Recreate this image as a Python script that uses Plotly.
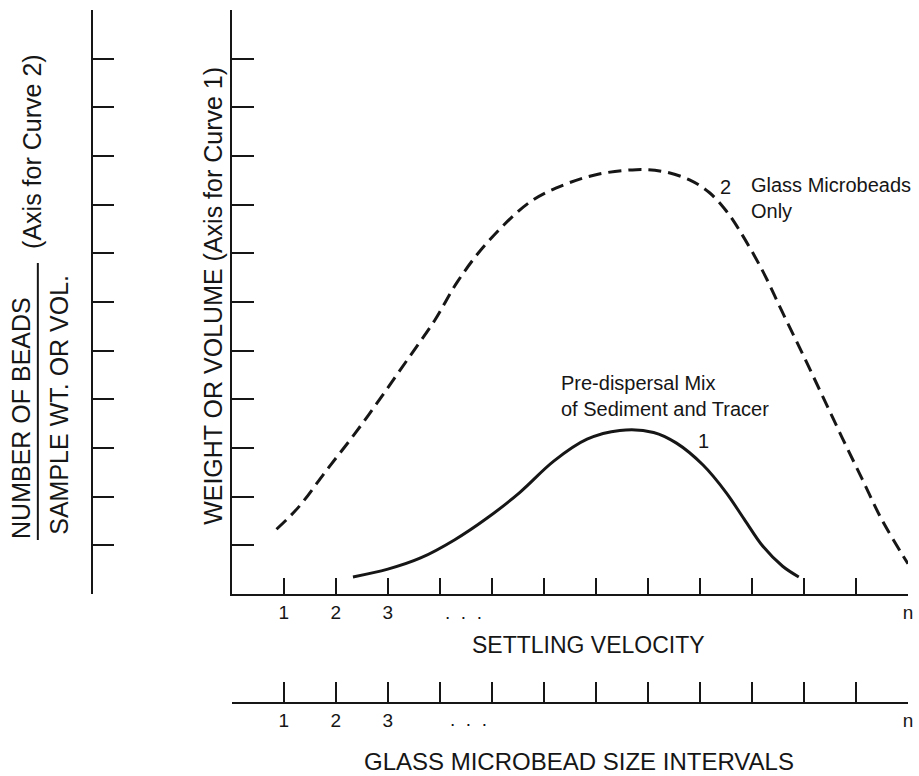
import plotly.graph_objects as go

# ---------------- data ----------------
# Curve 2: Glass microbeads only (dashed), read against the outer-left axis
curve2_x = [0.86, 1.28, 1.82, 2.37, 2.87, 3.38, 3.90, 4.34, 4.91, 5.74, 6.39, 7.02, 7.78,
            8.30, 8.80, 9.18, 9.50, 9.75, 10.21, 10.59, 10.98, 11.36, 11.74, 12.12, 12.50, 13.0]
curve2_y = [1.33, 1.78, 2.54, 3.30, 4.04, 4.82, 5.62, 6.42, 7.22, 8.06, 8.41, 8.62, 8.72,
            8.68, 8.51, 8.25, 7.88, 7.49, 6.63, 5.78, 4.92, 4.06, 3.20, 2.36, 1.52, 0.62]

# Curve 1: Pre-dispersal mix of sediment and tracer (solid)
curve1_x = [2.33, 3.00, 3.63, 4.28, 4.91, 5.54, 6.19, 6.83, 7.46, 8.11, 8.55, 9.06, 9.50,
            9.85, 10.21, 10.59, 10.90]
curve1_y = [0.35, 0.51, 0.74, 1.11, 1.56, 2.09, 2.73, 3.18, 3.36, 3.32, 3.10, 2.65, 2.09,
            1.54, 0.98, 0.57, 0.35]

x_ticks = list(range(1, 14))
x_ticktext = ["1", "2", "3"] + [""] * 9 + ["n"]
x2_ticks = list(range(0, 14))
x2_ticktext = [""] + x_ticktext
y_ticks = list(range(0, 13))
X_RANGE = [0, 13]
Y_RANGE = [0, 12]

# ---------------- layout geometry ----------------
W, H = 919, 776
ML, MR, MT, MB = 10, 6, 10, 10
PW, PH = W - ML - MR, H - MT - MB


def px(x):
    return (x - ML) / PW


def py(y):
    return (H - MB - y) / PH


FONT = "Liberation Sans, Arial, Helvetica, sans-serif"
INK = "#161616"

fig = go.Figure()

fig.add_trace(go.Scatter(
    x=curve2_x, y=curve2_y, mode="lines", line_shape="spline",
    line=dict(color=INK, width=3, dash="13px,7px"),
    hoverinfo="skip", showlegend=False, cliponaxis=False))
fig.add_trace(go.Scatter(
    x=curve1_x, y=curve1_y, mode="lines", line_shape="spline",
    line=dict(color=INK, width=3),
    hoverinfo="skip", showlegend=False, cliponaxis=False))
# carrier trace so that the secondary (free) axes are drawn
fig.add_trace(go.Scatter(
    x=X_RANGE, y=Y_RANGE, xaxis="x2", yaxis="y2", mode="markers",
    marker=dict(opacity=0), hoverinfo="skip", showlegend=False))

x0 = px(233)
common_axis = dict(showgrid=False, zeroline=False, showline=True, linecolor=INK,
                   linewidth=2, ticks="inside", tickcolor=INK, tickwidth=2,
                   fixedrange=True)

fig.update_layout(
    width=W, height=H,
    margin=dict(l=ML, r=MR, t=MT, b=MB, pad=0),
    paper_bgcolor="white", plot_bgcolor="white",
    font=dict(family=FONT, color=INK),
    showlegend=False,
    xaxis=dict(domain=[x0, 1], range=X_RANGE, anchor="y",
               tickmode="array", tickvals=x_ticks, ticktext=x_ticktext,
               ticklen=16, tickfont=dict(size=19, family=FONT, color=INK),
               ticklabelstandoff=0, **common_axis),
    yaxis=dict(domain=[py(594), 1], range=Y_RANGE, anchor="x",
               tickmode="array", tickvals=y_ticks, showticklabels=False,
               ticklen=22, **common_axis),
    xaxis2=dict(overlaying="x", range=X_RANGE, anchor="free", position=py(703),
                side="bottom", tickmode="array", tickvals=x2_ticks, ticktext=x2_ticktext,
                ticklen=20, tickfont=dict(size=19, family=FONT, color=INK),
                ticklabelstandoff=0, **common_axis),
    yaxis2=dict(overlaying="y", range=Y_RANGE, anchor="free", position=px(92),
                side="left", tickmode="array", tickvals=y_ticks, showticklabels=False,
                ticklen=21, **common_axis),
)

ann = []
# "..." tick placeholders
ann.append(dict(x=4.45, y=py(612), xref="x", yref="paper", text=".\u00a0\u00a0.\u00a0\u00a0.",
                showarrow=False, font=dict(size=19), xanchor="center", yanchor="middle"))
ann.append(dict(x=4.55, y=py(719), xref="x", yref="paper", text=".\u00a0\u00a0.\u00a0\u00a0.",
                showarrow=False, font=dict(size=19), xanchor="center", yanchor="middle"))
# x titles
ann.append(dict(x=px(592), y=py(645), xref="paper", yref="paper", text="SETTLING VELOCITY",
                showarrow=False, font=dict(size=23), xanchor="center", yanchor="middle"))
ann.append(dict(x=px(582), y=py(761), xref="paper", yref="paper",
                text="GLASS MICROBEAD SIZE INTERVALS",
                showarrow=False, font=dict(size=24), xanchor="center", yanchor="middle"))
# y titles
ann.append(dict(x=px(214), y=py(296), xref="paper", yref="paper",
                text="WEIGHT OR VOLUME (Axis for Curve 1)", textangle=-90,
                showarrow=False, font=dict(size=25), xanchor="center", yanchor="middle"))
ann.append(dict(x=px(21), y=py(418), xref="paper", yref="paper",
                text="NUMBER OF BEADS", textangle=-90,
                showarrow=False, font=dict(size=25), xanchor="center", yanchor="middle"))
ann.append(dict(x=px(59), y=py(405), xref="paper", yref="paper",
                text="SAMPLE WT. OR VOL.", textangle=-90,
                showarrow=False, font=dict(size=25), xanchor="center", yanchor="middle"))
ann.append(dict(x=px(32), y=py(152), xref="paper", yref="paper",
                text="(Axis for Curve 2)", textangle=-90,
                showarrow=False, font=dict(size=25), xanchor="center", yanchor="middle"))
# curve labels
ann.append(dict(x=9.50, y=8.37, xref="x", yref="y", text="2", showarrow=False,
                font=dict(size=20), xanchor="center", yanchor="middle"))
ann.append(dict(x=9.94, y=8.13, xref="x", yref="y", text="Glass Microbeads<br>Only",
                showarrow=False, font=dict(size=20), xanchor="left", yanchor="middle",
                align="left"))
ann.append(dict(x=6.29, y=4.06, xref="x", yref="y",
                text="Pre-dispersal Mix<br>of Sediment and Tracer",
                showarrow=False, font=dict(size=20), xanchor="left", yanchor="middle",
                align="left"))
ann.append(dict(x=9.06, y=3.14, xref="x", yref="y", text="1", showarrow=False,
                font=dict(size=20), xanchor="center", yanchor="middle"))
fig.update_layout(annotations=ann)

# fraction bar of the outer-left axis title
fig.add_shape(type="line", xref="paper", yref="paper",
              x0=px(38), x1=px(38), y0=py(263), y1=py(540),
              line=dict(color=INK, width=2))

fig.write_html(
    "out.html",
    config={"displayModeBar": False, "staticPlot": True},
    post_script="document.body.style.margin='0px';document.body.style.padding='0px';"
                "document.body.style.overflow='hidden';",
)
